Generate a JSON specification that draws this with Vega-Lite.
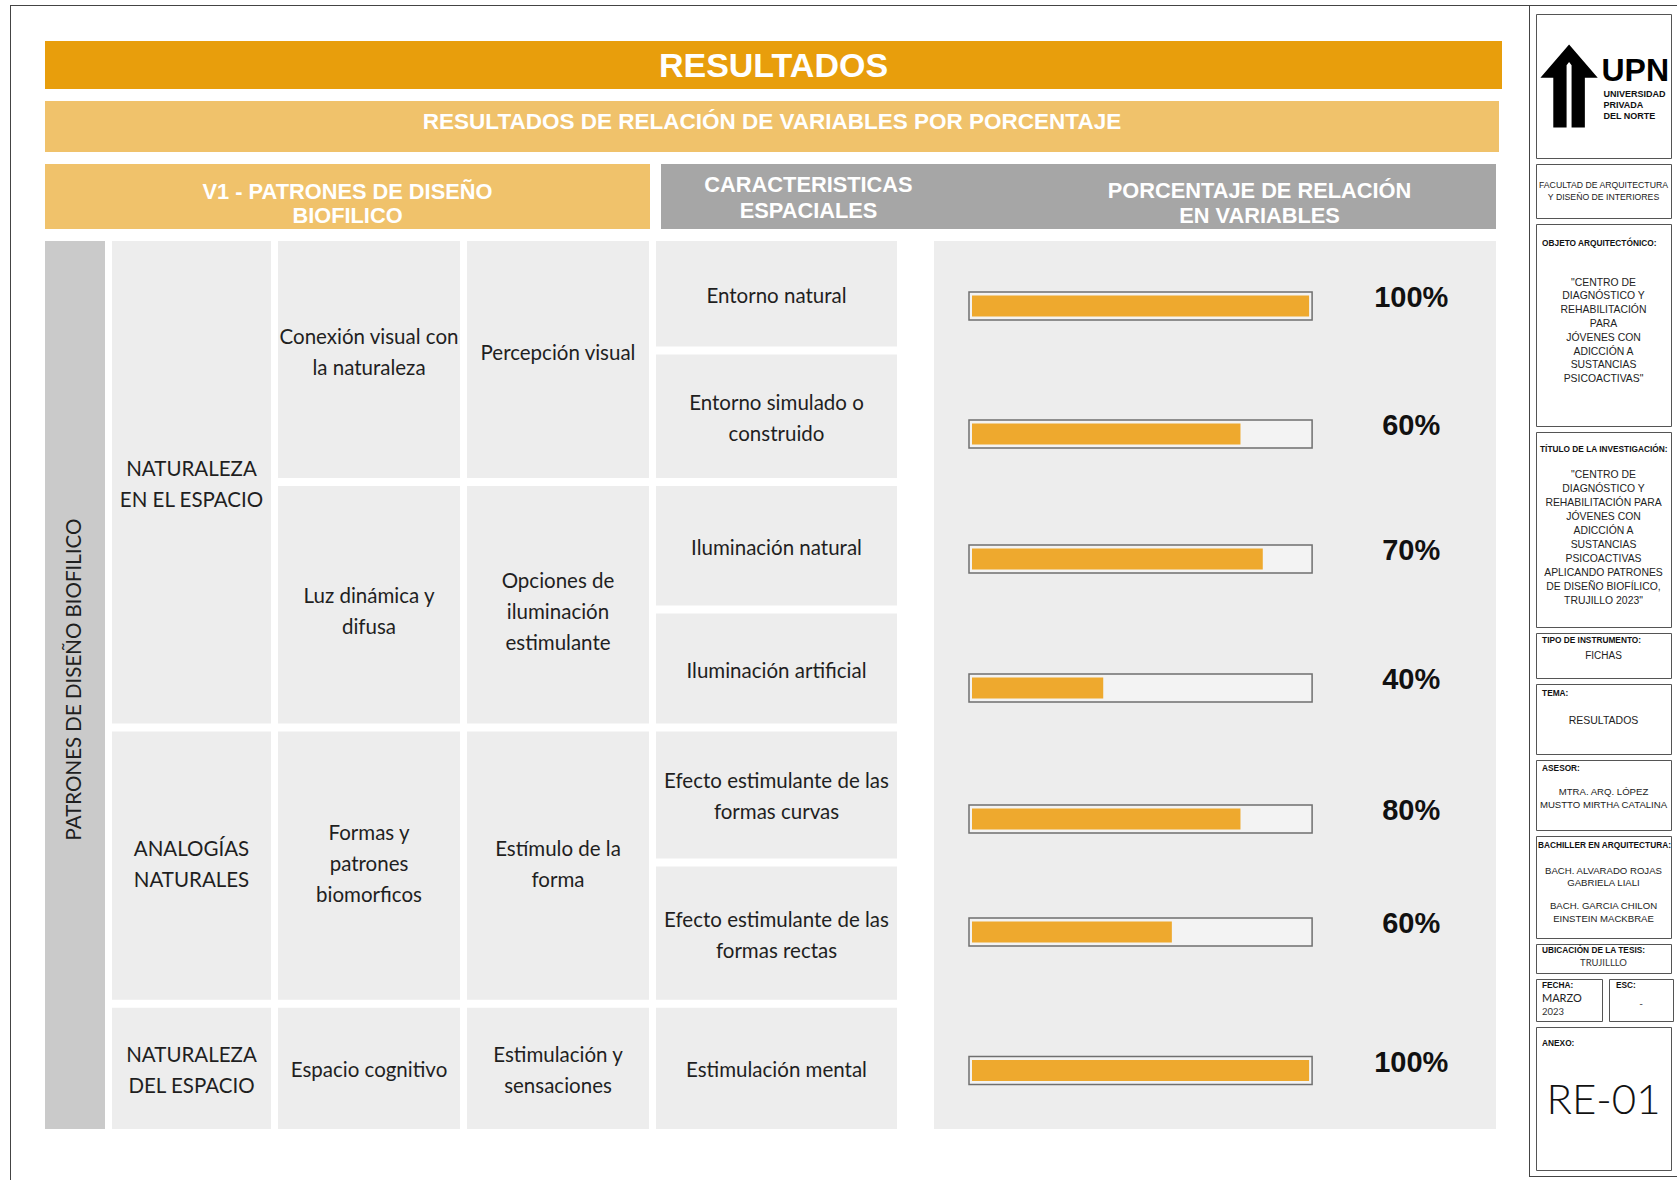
{
  "$schema": "https://vega.github.io/schema/vega-lite/v6.json",
  "background": "white",
  "padding": {"left": 10, "top": 5, "right": 0, "bottom": 0},
  "config": {"view": {"stroke": null}, "text": {"lineBreak": "\n"}},
  "datasets": {
    "vacio": [{"k": 1}],
    "celdas": [
      {"columna": "grupo", "texto": "NATURALEZA\nEN EL ESPACIO", "desde": 0, "hasta": 4},
      {"columna": "grupo", "texto": "ANALOGÍAS\nNATURALES", "desde": 4, "hasta": 6},
      {"columna": "grupo", "texto": "NATURALEZA\nDEL ESPACIO", "desde": 6, "hasta": 7},
      {"columna": "patron", "texto": "Conexión visual con\nla naturaleza", "desde": 0, "hasta": 2},
      {"columna": "patron", "texto": "Luz dinámica y\ndifusa", "desde": 2, "hasta": 4},
      {"columna": "patron", "texto": "Formas y\npatrones\nbiomorficos", "desde": 4, "hasta": 6},
      {"columna": "patron", "texto": "Espacio cognitivo", "desde": 6, "hasta": 7},
      {"columna": "estrategia", "texto": "Percepción visual", "desde": 0, "hasta": 2},
      {"columna": "estrategia", "texto": "Opciones de\niluminación\nestimulante", "desde": 2, "hasta": 4},
      {"columna": "estrategia", "texto": "Estímulo de la\nforma", "desde": 4, "hasta": 6},
      {"columna": "estrategia", "texto": "Estimulación y\nsensaciones", "desde": 6, "hasta": 7},
      {"columna": "caracteristica", "texto": "Entorno natural", "desde": 0, "hasta": 1},
      {"columna": "caracteristica", "texto": "Entorno simulado o\nconstruido", "desde": 1, "hasta": 2},
      {"columna": "caracteristica", "texto": "Iluminación natural", "desde": 2, "hasta": 3},
      {"columna": "caracteristica", "texto": "Iluminación artificial", "desde": 3, "hasta": 4},
      {"columna": "caracteristica", "texto": "Efecto estimulante de las\nformas curvas", "desde": 4, "hasta": 5},
      {"columna": "caracteristica", "texto": "Efecto estimulante de las\nformas rectas", "desde": 5, "hasta": 6},
      {"columna": "caracteristica", "texto": "Estimulación mental", "desde": 6, "hasta": 7}
    ],
    "barras": [
      {"fila": 0, "caracteristica": "Entorno natural", "porcentaje": 1.0, "barra": 1.0},
      {"fila": 1, "caracteristica": "Entorno simulado o construido", "porcentaje": 0.6, "barra": 0.8},
      {"fila": 2, "caracteristica": "Iluminación natural", "porcentaje": 0.7, "barra": 0.865},
      {"fila": 3, "caracteristica": "Iluminación artificial", "porcentaje": 0.4, "barra": 0.4},
      {"fila": 4, "caracteristica": "Efecto estimulante de las formas curvas", "porcentaje": 0.8, "barra": 0.8},
      {"fila": 5, "caracteristica": "Efecto estimulante de las formas rectas", "porcentaje": 0.6, "barra": 0.6},
      {"fila": 6, "caracteristica": "Estimulación mental", "porcentaje": 1.0, "barra": 1.0}
    ]
  },
  "spacing": 0,
  "vconcat": [
    {"width": 1667, "height": 1, "view": {"fill": "#444444"}, "data": {"name": "vacio"}, "mark": {"type": "rect", "opacity": 0}, "encoding": {}},
    {
      "spacing": 34,
      "hconcat": [
        {"width": 1, "height": 1174, "view": {"fill": "#444444"}, "data": {"name": "vacio"}, "mark": {"type": "rect", "opacity": 0}, "encoding": {}},
        {
          "spacing": 27,
          "hconcat": [
            {
              "spacing": 12,
              "vconcat": [
                {"width": 1451, "height": 23, "data": {"name": "vacio"}, "mark": {"type": "rect", "opacity": 0}, "encoding": {}},
                {"width": 1457, "height": 48, "view": {"fill": "#E89E0C"}, "data": {"values": [{"t": "RESULTADOS"}]},
                 "mark": {"type": "text", "font": "Liberation Sans, Arial", "fontWeight": "bold", "fontSize": 34, "color": "#ffffff", "dy": 2},
                 "encoding": {"text": {"field": "t"}}},
                {"width": 1454, "height": 51, "view": {"fill": "#F0C26B"}, "data": {"values": [{"t": "RESULTADOS DE RELACIÓN DE VARIABLES POR PORCENTAJE"}]},
                 "mark": {"type": "text", "font": "Liberation Sans, Arial", "fontWeight": "bold", "fontSize": 22.5, "color": "#ffffff", "dy": -5},
                 "encoding": {"text": {"field": "t"}}},
                {
                  "spacing": 11,
                  "hconcat": [
                    {"width": 605, "height": 65, "view": {"fill": "#F0C26B"}, "data": {"values": [{"t": "V1 - PATRONES DE DISEÑO\nBIOFILICO"}]},
                     "mark": {"type": "text", "font": "Liberation Sans, Arial", "fontWeight": "bold", "fontSize": 21.8, "lineHeight": 24, "color": "#ffffff", "dy": -4.5},
                     "encoding": {"text": {"field": "t"}}},
                    {"width": 835, "height": 65, "view": {"fill": "#A6A6A6"},
                     "layer": [
                       {"data": {"values": [{"t": "CARACTERISTICAS\nESPACIALES"}]},
                        "mark": {"type": "text", "font": "Liberation Sans, Arial", "fontWeight": "bold", "fontSize": 21.8, "lineHeight": 26, "color": "#ffffff", "dx": -270, "dy": -12},
                        "encoding": {"text": {"field": "t"}}},
                       {"data": {"values": [{"t": "PORCENTAJE DE RELACIÓN\nEN VARIABLES"}]},
                        "mark": {"type": "text", "font": "Liberation Sans, Arial", "fontWeight": "bold", "fontSize": 21.8, "lineHeight": 25, "color": "#ffffff", "dx": 181, "dy": -6},
                        "encoding": {"text": {"field": "t"}}}
                     ]}
                  ]
                },
                {
                  "spacing": 37,
                  "hconcat": [
                    {
                      "spacing": 7,
                      "hconcat": [
                        {"width": 60, "height": 888, "view": {"fill": "#CACACA"}, "data": {"values": [{"t": "PATRONES DE DISEÑO BIOFILICO"}]},
                         "mark": {"type": "text", "angle": 270, "font": "Lato", "fontSize": 20.5, "color": "#1f1f1f", "dx": 5.5},
                         "encoding": {"text": {"field": "t"}}},
                        {"width": 159, "height": 896, "data": {"name": "celdas"}, "transform": [{"filter": "datum.columna === 'grupo'"}],
                         "layer": [
                           {"mark": {"type": "rect", "color": "#EDEDED", "y2Offset": -8},
                            "encoding": {"y": {"field": "desde", "type": "quantitative", "scale": {"domain": [0, 1, 2, 3, 4, 5, 6, 7], "range": [0, 113.5, 245, 372.6, 490.4, 625.4, 766.7, 896], "nice": false, "zero": false}, "axis": null}, "y2": {"field": "hasta"}}},
                           {"transform": [{"filter": "length(split(datum.texto, '\\n')) === 1"}, {"fold": ["desde", "hasta"], "as": ["borde", "fila"]}, {"aggregate": [{"op": "mean", "field": "fila", "as": "centro"}], "groupby": ["texto"]}],
                            "mark": {"type": "text", "font": "Lato", "fontSize": 20.5, "lineHeight": 31, "color": "#1f1f1f", "dy": -1},
                            "encoding": {"y": {"field": "centro", "type": "quantitative"}, "text": {"field": "texto"}}},
                           {"transform": [{"filter": "length(split(datum.texto, '\\n')) === 2"}, {"fold": ["desde", "hasta"], "as": ["borde", "fila"]}, {"aggregate": [{"op": "mean", "field": "fila", "as": "centro"}], "groupby": ["texto"]}],
                            "mark": {"type": "text", "font": "Lato", "fontSize": 20.5, "lineHeight": 31, "color": "#1f1f1f", "dy": -16.5},
                            "encoding": {"y": {"field": "centro", "type": "quantitative"}, "text": {"field": "texto"}}}
                         ]},
                        {"width": 182, "height": 896, "data": {"name": "celdas"}, "transform": [{"filter": "datum.columna === 'patron'"}],
                         "layer": [
                           {"mark": {"type": "rect", "color": "#EDEDED", "y2Offset": -8},
                            "encoding": {"y": {"field": "desde", "type": "quantitative", "scale": {"domain": [0, 1, 2, 3, 4, 5, 6, 7], "range": [0, 113.5, 245, 372.6, 490.4, 625.4, 766.7, 896], "nice": false, "zero": false}, "axis": null}, "y2": {"field": "hasta"}}},
                           {"transform": [{"filter": "length(split(datum.texto, '\\n')) === 1"}, {"fold": ["desde", "hasta"], "as": ["borde", "fila"]}, {"aggregate": [{"op": "mean", "field": "fila", "as": "centro"}], "groupby": ["texto"]}],
                            "mark": {"type": "text", "font": "Lato", "fontSize": 20.5, "lineHeight": 31, "color": "#1f1f1f", "dy": -1},
                            "encoding": {"y": {"field": "centro", "type": "quantitative"}, "text": {"field": "texto"}}},
                           {"transform": [{"filter": "length(split(datum.texto, '\\n')) === 2"}, {"fold": ["desde", "hasta"], "as": ["borde", "fila"]}, {"aggregate": [{"op": "mean", "field": "fila", "as": "centro"}], "groupby": ["texto"]}],
                            "mark": {"type": "text", "font": "Lato", "fontSize": 20.5, "lineHeight": 31, "color": "#1f1f1f", "dy": -16.5},
                            "encoding": {"y": {"field": "centro", "type": "quantitative"}, "text": {"field": "texto"}}},
                           {"transform": [{"filter": "length(split(datum.texto, '\\n')) === 3"}, {"fold": ["desde", "hasta"], "as": ["borde", "fila"]}, {"aggregate": [{"op": "mean", "field": "fila", "as": "centro"}], "groupby": ["texto"]}],
                            "mark": {"type": "text", "font": "Lato", "fontSize": 20.5, "lineHeight": 31, "color": "#1f1f1f", "dy": -32},
                            "encoding": {"y": {"field": "centro", "type": "quantitative"}, "text": {"field": "texto"}}}
                         ]},
                        {"width": 182, "height": 896, "data": {"name": "celdas"}, "transform": [{"filter": "datum.columna === 'estrategia'"}],
                         "layer": [
                           {"mark": {"type": "rect", "color": "#EDEDED", "y2Offset": -8},
                            "encoding": {"y": {"field": "desde", "type": "quantitative", "scale": {"domain": [0, 1, 2, 3, 4, 5, 6, 7], "range": [0, 113.5, 245, 372.6, 490.4, 625.4, 766.7, 896], "nice": false, "zero": false}, "axis": null}, "y2": {"field": "hasta"}}},
                           {"transform": [{"filter": "length(split(datum.texto, '\\n')) === 1"}, {"fold": ["desde", "hasta"], "as": ["borde", "fila"]}, {"aggregate": [{"op": "mean", "field": "fila", "as": "centro"}], "groupby": ["texto"]}],
                            "mark": {"type": "text", "font": "Lato", "fontSize": 20.5, "lineHeight": 31, "color": "#1f1f1f", "dy": -1},
                            "encoding": {"y": {"field": "centro", "type": "quantitative"}, "text": {"field": "texto"}}},
                           {"transform": [{"filter": "length(split(datum.texto, '\\n')) === 2"}, {"fold": ["desde", "hasta"], "as": ["borde", "fila"]}, {"aggregate": [{"op": "mean", "field": "fila", "as": "centro"}], "groupby": ["texto"]}],
                            "mark": {"type": "text", "font": "Lato", "fontSize": 20.5, "lineHeight": 31, "color": "#1f1f1f", "dy": -16.5},
                            "encoding": {"y": {"field": "centro", "type": "quantitative"}, "text": {"field": "texto"}}},
                           {"transform": [{"filter": "length(split(datum.texto, '\\n')) === 3"}, {"fold": ["desde", "hasta"], "as": ["borde", "fila"]}, {"aggregate": [{"op": "mean", "field": "fila", "as": "centro"}], "groupby": ["texto"]}],
                            "mark": {"type": "text", "font": "Lato", "fontSize": 20.5, "lineHeight": 31, "color": "#1f1f1f", "dy": -32},
                            "encoding": {"y": {"field": "centro", "type": "quantitative"}, "text": {"field": "texto"}}}
                         ]},
                        {"width": 241, "height": 896, "data": {"name": "celdas"}, "transform": [{"filter": "datum.columna === 'caracteristica'"}],
                         "layer": [
                           {"mark": {"type": "rect", "color": "#EDEDED", "y2Offset": -8},
                            "encoding": {"y": {"field": "desde", "type": "quantitative", "scale": {"domain": [0, 1, 2, 3, 4, 5, 6, 7], "range": [0, 113.5, 245, 372.6, 490.4, 625.4, 766.7, 896], "nice": false, "zero": false}, "axis": null}, "y2": {"field": "hasta"}}},
                           {"transform": [{"filter": "length(split(datum.texto, '\\n')) === 1"}, {"fold": ["desde", "hasta"], "as": ["borde", "fila"]}, {"aggregate": [{"op": "mean", "field": "fila", "as": "centro"}], "groupby": ["texto"]}],
                            "mark": {"type": "text", "font": "Lato", "fontSize": 20.5, "lineHeight": 31, "color": "#1f1f1f", "dy": -1},
                            "encoding": {"y": {"field": "centro", "type": "quantitative"}, "text": {"field": "texto"}}},
                           {"transform": [{"filter": "length(split(datum.texto, '\\n')) === 2"}, {"fold": ["desde", "hasta"], "as": ["borde", "fila"]}, {"aggregate": [{"op": "mean", "field": "fila", "as": "centro"}], "groupby": ["texto"]}],
                            "mark": {"type": "text", "font": "Lato", "fontSize": 20.5, "lineHeight": 31, "color": "#1f1f1f", "dy": -16.5},
                            "encoding": {"y": {"field": "centro", "type": "quantitative"}, "text": {"field": "texto"}}}
                         ]}
                      ]
                    },
                    {
                      "width": 562, "height": 888, "view": {"fill": "#EDEDED"},
                      "data": {"name": "barras"},
                      "encoding": {"y": {"field": "fila", "type": "quantitative", "axis": null, "scale": {"domain": [0, 1, 2, 3, 4, 5, 6], "range": [60, 193, 318, 447, 578, 691, 835], "nice": false, "zero": false}}},
                      "layer": [
                        {"mark": {"type": "bar", "orient": "horizontal", "height": 28, "fill": "#F3F3F3", "stroke": "#6F6F6F", "strokeWidth": 1.5},
                         "encoding": {"x": {"datum": 1, "type": "quantitative", "scale": {"domain": [-0.102, 1.536], "nice": false, "zero": false}, "axis": null}, "x2": {"datum": 0}}},
                        {"mark": {"type": "bar", "orient": "horizontal", "height": 21, "color": "#EEA92E", "xOffset": -3, "x2Offset": 3},
                         "encoding": {"x": {"field": "barra", "type": "quantitative"}, "x2": {"datum": 0}}},
                        {"mark": {"type": "text", "font": "Liberation Sans, Arial", "fontWeight": "bold", "fontSize": 29, "color": "#111111", "dy": -8},
                         "encoding": {"x": {"datum": 1.289, "type": "quantitative"}, "text": {"field": "porcentaje", "type": "quantitative", "format": ".0%"}}}
                      ]
                    }
                  ]
                }
              ]
            },
            {
              "spacing": 0,
              "vconcat": [
                {
                  "spacing": 5,
                  "hconcat": [
                    {"width": 1, "height": 1170, "view": {"fill": "#444444"}, "data": {"name": "vacio"}, "mark": {"type": "rect", "opacity": 0}, "encoding": {}},
                    {
                      "spacing": 4,
                      "vconcat": [
                        {"width": 135, "height": 3, "data": {"name": "vacio"}, "mark": {"type": "rect", "opacity": 0}, "encoding": {}},
                        {"width": 135, "height": 144, "view": {"stroke": "#555555", "strokeWidth": 1},
                         "layer": [
                           {"data": {"values": [{"k": "logo"}]},
                            "mark": {"type": "point", "shape": "M0,-1 L0.69,-0.2 L0.38,-0.2 L0.38,1 L0.06,1 L0.06,-0.5 L0,-0.58 L-0.06,-0.5 L-0.06,1 L-0.38,1 L-0.38,-0.2 L-0.69,-0.2 Z", "size": 6900, "filled": true, "color": "#000000", "opacity": 1, "strokeWidth": 0},
                            "encoding": {"x": {"datum": 0.245, "type": "quantitative", "scale": {"domain": [0, 1], "nice": false, "zero": false}, "axis": null}, "y": {"datum": 0.5, "type": "quantitative", "scale": {"domain": [0, 1], "reverse": true, "nice": false, "zero": false}, "axis": null}}},
                           {"data": {"values": [{"t": "UPN"}]},
                            "mark": {"type": "text", "align": "left", "baseline": "alphabetic", "font": "Liberation Sans, Arial", "fontWeight": "bold", "fontSize": 32, "color": "#000000"},
                            "encoding": {"text": {"field": "t"}, "x": {"datum": 0.485, "type": "quantitative"}, "y": {"datum": 0.465, "type": "quantitative"}}},
                           {"data": {"values": [{"t": "UNIVERSIDAD\nPRIVADA\nDEL NORTE"}]},
                            "mark": {"type": "text", "align": "left", "font": "Liberation Sans, Arial", "fontWeight": "bold", "fontSize": 9, "lineHeight": 11, "color": "#111111"},
                            "encoding": {"text": {"field": "t"}, "x": {"datum": 0.5, "type": "quantitative"}, "y": {"datum": 0.555, "type": "quantitative"}}}
                         ]},
                        {"width": 135, "height": 54, "view": {"stroke": "#555555", "strokeWidth": 1}, "data": {"values": [{"t": "FACULTAD DE ARQUITECTURA\nY DISEÑO DE INTERIORES"}]},
                         "mark": {"type": "text", "font": "Liberation Sans, Arial", "fontSize": 8.7, "lineHeight": 11.5, "color": "#222222", "dy": -6},
                         "encoding": {"text": {"field": "t"}}},
                        {"width": 135, "height": 202, "view": {"stroke": "#555555", "strokeWidth": 1},
                         "layer": [
                           {"data": {"values": [{"t": "OBJETO ARQUITECTÓNICO:"}]},
                            "mark": {"type": "text", "align": "left", "font": "Liberation Sans, Arial", "fontWeight": "bold", "fontSize": 8.3, "color": "#111111"},
                            "encoding": {"text": {"field": "t"}, "x": {"datum": 0.045, "type": "quantitative", "scale": {"domain": [0, 1], "nice": false, "zero": false}, "axis": null}, "y": {"datum": 0.1, "type": "quantitative", "scale": {"domain": [0, 1], "reverse": true, "nice": false, "zero": false}, "axis": null}}},
                           {"data": {"values": [{"t": "\"CENTRO DE\nDIAGNÓSTICO Y\nREHABILITACIÓN\nPARA\nJÓVENES CON\nADICCIÓN A\nSUSTANCIAS\nPSICOACTIVAS\""}]},
                            "mark": {"type": "text", "font": "Liberation Sans, Arial", "fontSize": 10.4, "lineHeight": 13.8, "color": "#222222"},
                            "encoding": {"text": {"field": "t"}, "x": {"datum": 0.5, "type": "quantitative"}, "y": {"datum": 0.29, "type": "quantitative"}}}
                         ]},
                        {"width": 135, "height": 195, "view": {"stroke": "#555555", "strokeWidth": 1},
                         "layer": [
                           {"data": {"values": [{"t": "TÍTULO DE LA INVESTIGACIÓN:"}]},
                            "mark": {"type": "text", "align": "left", "font": "Liberation Sans, Arial", "fontWeight": "bold", "fontSize": 8.3, "color": "#111111"},
                            "encoding": {"text": {"field": "t"}, "x": {"datum": 0.03, "type": "quantitative", "scale": {"domain": [0, 1], "nice": false, "zero": false}, "axis": null}, "y": {"datum": 0.092, "type": "quantitative", "scale": {"domain": [0, 1], "reverse": true, "nice": false, "zero": false}, "axis": null}}},
                           {"data": {"values": [{"t": "\"CENTRO DE\nDIAGNÓSTICO Y\nREHABILITACIÓN PARA\nJÓVENES CON\nADICCIÓN A\nSUSTANCIAS\nPSICOACTIVAS\nAPLICANDO PATRONES\nDE DISEÑO BIOFÍLICO,\nTRUJILLO 2023\""}]},
                            "mark": {"type": "text", "font": "Liberation Sans, Arial", "fontSize": 10.4, "lineHeight": 14, "color": "#222222"},
                            "encoding": {"text": {"field": "t"}, "x": {"datum": 0.5, "type": "quantitative"}, "y": {"datum": 0.22, "type": "quantitative"}}}
                         ]},
                        {"width": 135, "height": 45, "view": {"stroke": "#555555", "strokeWidth": 1},
                         "layer": [
                           {"data": {"values": [{"t": "TIPO DE INSTRUMENTO:"}]},
                            "mark": {"type": "text", "align": "left", "font": "Liberation Sans, Arial", "fontWeight": "bold", "fontSize": 8.3, "color": "#111111"},
                            "encoding": {"text": {"field": "t"}, "x": {"datum": 0.045, "type": "quantitative", "scale": {"domain": [0, 1], "nice": false, "zero": false}, "axis": null}, "y": {"datum": 0.18, "type": "quantitative", "scale": {"domain": [0, 1], "reverse": true, "nice": false, "zero": false}, "axis": null}}},
                           {"data": {"values": [{"t": "FICHAS"}]},
                            "mark": {"type": "text", "font": "Liberation Sans, Arial", "fontSize": 10, "color": "#222222"},
                            "encoding": {"text": {"field": "t"}, "x": {"datum": 0.5, "type": "quantitative"}, "y": {"datum": 0.51, "type": "quantitative"}}}
                         ]},
                        {"width": 135, "height": 70, "view": {"stroke": "#555555", "strokeWidth": 1},
                         "layer": [
                           {"data": {"values": [{"t": "TEMA:"}]},
                            "mark": {"type": "text", "align": "left", "font": "Liberation Sans, Arial", "fontWeight": "bold", "fontSize": 8.3, "color": "#111111"},
                            "encoding": {"text": {"field": "t"}, "x": {"datum": 0.045, "type": "quantitative", "scale": {"domain": [0, 1], "nice": false, "zero": false}, "axis": null}, "y": {"datum": 0.14, "type": "quantitative", "scale": {"domain": [0, 1], "reverse": true, "nice": false, "zero": false}, "axis": null}}},
                           {"data": {"values": [{"t": "RESULTADOS"}]},
                            "mark": {"type": "text", "font": "Liberation Sans, Arial", "fontSize": 10.5, "color": "#222222"},
                            "encoding": {"text": {"field": "t"}, "x": {"datum": 0.5, "type": "quantitative"}, "y": {"datum": 0.53, "type": "quantitative"}}}
                         ]},
                        {"width": 135, "height": 70, "view": {"stroke": "#555555", "strokeWidth": 1},
                         "layer": [
                           {"data": {"values": [{"t": "ASESOR:"}]},
                            "mark": {"type": "text", "align": "left", "font": "Liberation Sans, Arial", "fontWeight": "bold", "fontSize": 8.3, "color": "#111111"},
                            "encoding": {"text": {"field": "t"}, "x": {"datum": 0.045, "type": "quantitative", "scale": {"domain": [0, 1], "nice": false, "zero": false}, "axis": null}, "y": {"datum": 0.13, "type": "quantitative", "scale": {"domain": [0, 1], "reverse": true, "nice": false, "zero": false}, "axis": null}}},
                           {"data": {"values": [{"t": "MTRA. ARQ. LÓPEZ\nMUSTTO MIRTHA CATALINA"}]},
                            "mark": {"type": "text", "font": "Liberation Sans, Arial", "fontSize": 9.6, "lineHeight": 12.5, "color": "#222222"},
                            "encoding": {"text": {"field": "t"}, "x": {"datum": 0.5, "type": "quantitative"}, "y": {"datum": 0.46, "type": "quantitative"}}}
                         ]},
                        {"width": 135, "height": 102, "view": {"stroke": "#555555", "strokeWidth": 1},
                         "layer": [
                           {"data": {"values": [{"t": "BACHILLER EN ARQUITECTURA:"}]},
                            "mark": {"type": "text", "align": "left", "font": "Liberation Sans, Arial", "fontWeight": "bold", "fontSize": 8.3, "color": "#111111"},
                            "encoding": {"text": {"field": "t"}, "x": {"datum": 0.015, "type": "quantitative", "scale": {"domain": [0, 1], "nice": false, "zero": false}, "axis": null}, "y": {"datum": 0.1, "type": "quantitative", "scale": {"domain": [0, 1], "reverse": true, "nice": false, "zero": false}, "axis": null}}},
                           {"data": {"values": [{"t": "BACH. ALVARADO ROJAS\nGABRIELA LIALI"}]},
                            "mark": {"type": "text", "font": "Liberation Sans, Arial", "fontSize": 9.6, "lineHeight": 12.8, "color": "#222222"},
                            "encoding": {"text": {"field": "t"}, "x": {"datum": 0.5, "type": "quantitative"}, "y": {"datum": 0.34, "type": "quantitative"}}},
                           {"data": {"values": [{"t": "BACH. GARCIA CHILON\nEINSTEIN MACKBRAE"}]},
                            "mark": {"type": "text", "font": "Liberation Sans, Arial", "fontSize": 9.6, "lineHeight": 12.8, "color": "#222222"},
                            "encoding": {"text": {"field": "t"}, "x": {"datum": 0.5, "type": "quantitative"}, "y": {"datum": 0.685, "type": "quantitative"}}}
                         ]},
                        {"width": 135, "height": 29, "view": {"stroke": "#555555", "strokeWidth": 1},
                         "layer": [
                           {"data": {"values": [{"t": "UBICACIÓN DE LA TESIS:"}]},
                            "mark": {"type": "text", "align": "left", "font": "Liberation Sans, Arial", "fontWeight": "bold", "fontSize": 8.3, "color": "#111111"},
                            "encoding": {"text": {"field": "t"}, "x": {"datum": 0.045, "type": "quantitative", "scale": {"domain": [0, 1], "nice": false, "zero": false}, "axis": null}, "y": {"datum": 0.24, "type": "quantitative", "scale": {"domain": [0, 1], "reverse": true, "nice": false, "zero": false}, "axis": null}}},
                           {"data": {"values": [{"t": "TRUJILLLO"}]},
                            "mark": {"type": "text", "font": "Lato", "fontSize": 9.5, "color": "#333333"},
                            "encoding": {"text": {"field": "t"}, "x": {"datum": 0.5, "type": "quantitative"}, "y": {"datum": 0.64, "type": "quantitative"}}}
                         ]},
                        {
                          "spacing": 5,
                          "hconcat": [
                            {"width": 66, "height": 42, "view": {"stroke": "#555555", "strokeWidth": 1},
                             "layer": [
                               {"data": {"values": [{"t": "FECHA:"}]},
                                "mark": {"type": "text", "align": "left", "font": "Liberation Sans, Arial", "fontWeight": "bold", "fontSize": 8.3, "color": "#111111"},
                                "encoding": {"text": {"field": "t"}, "x": {"datum": 0.09, "type": "quantitative", "scale": {"domain": [0, 1], "nice": false, "zero": false}, "axis": null}, "y": {"datum": 0.17, "type": "quantitative", "scale": {"domain": [0, 1], "reverse": true, "nice": false, "zero": false}, "axis": null}}},
                               {"data": {"values": [{"t": "MARZO"}]},
                                "mark": {"type": "text", "align": "left", "font": "Lato", "fontSize": 11, "color": "#222222"},
                                "encoding": {"text": {"field": "t"}, "x": {"datum": 0.09, "type": "quantitative"}, "y": {"datum": 0.48, "type": "quantitative"}}},
                               {"data": {"values": [{"t": "2023"}]},
                                "mark": {"type": "text", "align": "left", "font": "Lato", "fontSize": 9.5, "color": "#333333"},
                                "encoding": {"text": {"field": "t"}, "x": {"datum": 0.09, "type": "quantitative"}, "y": {"datum": 0.78, "type": "quantitative"}}}
                             ]},
                            {"width": 64, "height": 42, "view": {"stroke": "#555555", "strokeWidth": 1},
                             "layer": [
                               {"data": {"values": [{"t": "ESC:"}]},
                                "mark": {"type": "text", "align": "left", "font": "Liberation Sans, Arial", "fontWeight": "bold", "fontSize": 8.3, "color": "#111111"},
                                "encoding": {"text": {"field": "t"}, "x": {"datum": 0.11, "type": "quantitative", "scale": {"domain": [0, 1], "nice": false, "zero": false}, "axis": null}, "y": {"datum": 0.17, "type": "quantitative", "scale": {"domain": [0, 1], "reverse": true, "nice": false, "zero": false}, "axis": null}}},
                               {"data": {"values": [{"t": "-"}]},
                                "mark": {"type": "text", "font": "Lato", "fontSize": 10, "color": "#333333"},
                                "encoding": {"text": {"field": "t"}, "x": {"datum": 0.5, "type": "quantitative"}, "y": {"datum": 0.6, "type": "quantitative"}}}
                             ]}
                          ]
                        },
                        {"width": 135, "height": 143, "view": {"stroke": "#555555", "strokeWidth": 1},
                         "layer": [
                           {"data": {"values": [{"t": "ANEXO:"}]},
                            "mark": {"type": "text", "align": "left", "font": "Liberation Sans, Arial", "fontWeight": "bold", "fontSize": 8.3, "color": "#111111"},
                            "encoding": {"text": {"field": "t"}, "x": {"datum": 0.045, "type": "quantitative", "scale": {"domain": [0, 1], "nice": false, "zero": false}, "axis": null}, "y": {"datum": 0.12, "type": "quantitative", "scale": {"domain": [0, 1], "reverse": true, "nice": false, "zero": false}, "axis": null}}},
                           {"data": {"values": [{"t": "RE-01"}]},
                            "mark": {"type": "text", "font": "Lato", "fontWeight": 300, "fontSize": 42, "color": "#111111"},
                            "encoding": {"text": {"field": "t"}, "x": {"datum": 0.5, "type": "quantitative"}, "y": {"datum": 0.52, "type": "quantitative"}}}
                         ]}
                      ]
                    },
                    {"width": 1, "height": 1170, "view": {"fill": "#444444"}, "data": {"name": "vacio"}, "mark": {"type": "rect", "opacity": 0}, "encoding": {}}
                  ]
                },
                {"width": 148, "height": 1, "view": {"fill": "#444444"}, "data": {"name": "vacio"}, "mark": {"type": "rect", "opacity": 0}, "encoding": {}}
              ]
            }
          ]
        }
      ]
    }
  ]
}
